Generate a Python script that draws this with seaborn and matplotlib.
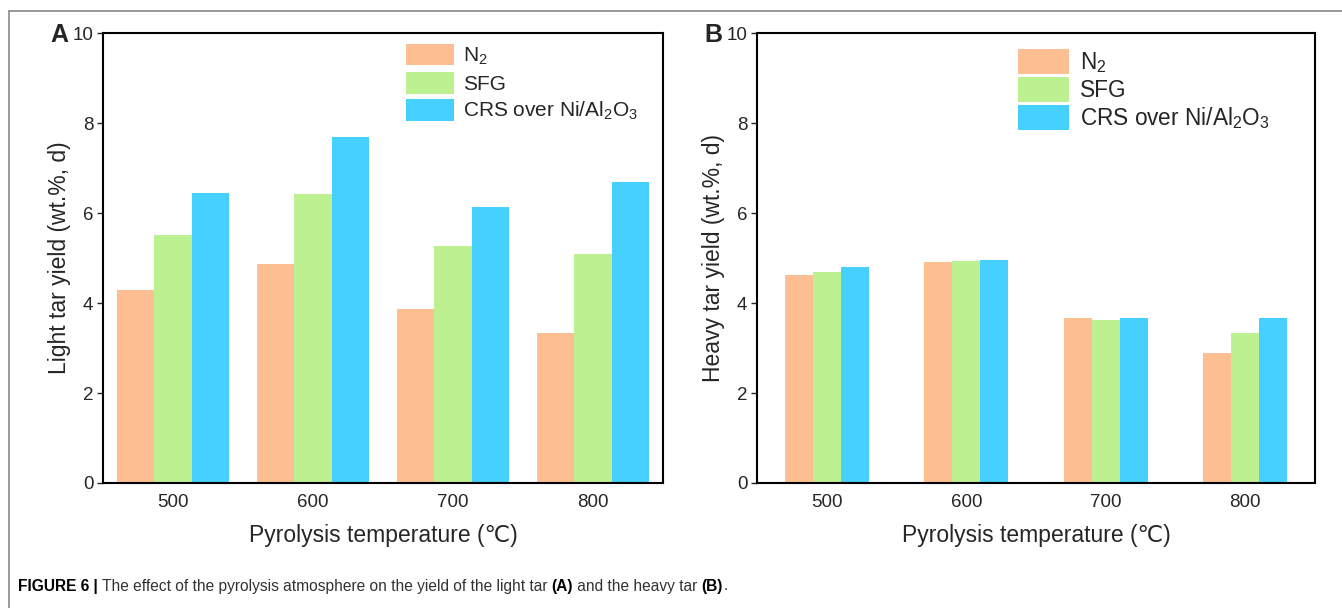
import pandas as pd
import seaborn as sns
import matplotlib.pyplot as plt
from matplotlib.lines import Line2D
from matplotlib import font_manager

sns.set_style("white")
plt.rcParams['font.family'] = ['Liberation Sans', 'DejaVu Sans']
plt.rcParams['mathtext.fontset'] = 'custom'
plt.rcParams['mathtext.rm'] = 'Liberation Sans'
plt.rcParams['mathtext.it'] = 'Liberation Sans'

# data
temps = ["500", "600", "700", "800"]
atmospheres = ["N$_2$", "SFG", "CRS over Ni/Al$_2$O$_3$"]
light_n2 = [4.30, 4.87, 3.87, 3.33]
light_sfg = [5.52, 6.42, 5.27, 5.09]
light_crs = [6.45, 7.70, 6.14, 6.70]
heavy_n2 = [4.62, 4.92, 3.66, 2.88]
heavy_sfg = [4.69, 4.94, 3.63, 3.33]
heavy_crs = [4.81, 4.96, 3.66, 3.66]

colors = ["#FDBF91", "#BDF090", "#45D0FF"]


def long_df(series):
    rows = []
    for atm, vals in zip(atmospheres, series):
        for t, v in zip(temps, vals):
            rows.append({"temp": t, "atm": atm, "val": v})
    return pd.DataFrame(rows)


df_light = long_df([light_n2, light_sfg, light_crs])
df_heavy = long_df([heavy_n2, heavy_sfg, heavy_crs])

fig = plt.figure(figsize=(13.42, 6.08), dpi=100)
ax1 = fig.add_axes([0.0768, 0.2056, 0.4173, 0.740])
ax2 = fig.add_axes([0.5641, 0.2056, 0.4158, 0.740])

panels = [
    (ax1, df_light, 0.8, "Light tar yield (wt.%, d)", "A", 15, 2.3, 1.2, 0.25, (0.515, 1.008)),
    (ax2, df_heavy, 0.6, "Heavy tar yield (wt.%, d)", "B", 16.3, 2.25, 1.3, 0.12, (0.44, 1.0)),
]

for ax, df, w, ylab, tag, lfs, hl, hh, ls, anchor in panels:
    sns.barplot(data=df, x="temp", y="val", hue="atm", hue_order=atmospheres,
                palette=colors, saturation=1, width=w, linewidth=0, ax=ax)
    ax.set_ylim(0, 10)
    ax.set_xlim(-0.5, 3.5)
    ax.set_yticks([0, 2, 4, 6, 8, 10])
    ax.set_ylabel(ylab, fontsize=16.5, labelpad=1)
    ax.set_xlabel("Pyrolysis temperature (\u2103)", fontsize=16.5, labelpad=9)
    ax.tick_params(axis="y", direction="out", length=4, width=1, labelsize=13.5, left=True, pad=3)
    ax.tick_params(axis="x", length=0, labelsize=13.5, pad=8)
    for s in ax.spines.values():
        s.set_color("black")
        s.set_linewidth(1.5)
    ax.legend(loc="upper left", bbox_to_anchor=anchor, frameon=False, fontsize=lfs,
              handlelength=hl, handleheight=hh, labelspacing=ls, handletextpad=0.45,
              borderaxespad=0.3)
    ax.text(-0.062, 0.995, tag, transform=ax.transAxes, fontsize=18, fontweight="bold",
            ha="right", va="center")

# outer frame lines
fig.add_artist(Line2D([9 / 1342, 1], [1 - 11 / 608, 1 - 11 / 608], color="#888888", lw=1.2))
fig.add_artist(Line2D([9 / 1342, 9 / 1342], [0, 1 - 11 / 608], color="#888888", lw=1.2))

# caption, pieces chained one after another
names = {f.name for f in font_manager.fontManager.ttflist}
cap_family = ["Liberation Sans Narrow"] if "Liberation Sans Narrow" in names else ["Liberation Sans"]
pieces = [
    ("FIGURE 6 | ", "bold", "black"),
    ("The effect of the pyrolysis atmosphere on the yield of the light tar ", "normal", "#333333"),
    ("(A)", "bold", "black"),
    (" and the heavy tar ", "normal", "#333333"),
    ("(B)", "bold", "black"),
    (".", "normal", "#333333"),
]
renderer = fig.canvas.get_renderer()
xpix = 18
for s, wgt, col in pieces:
    t = fig.text(xpix / 1342, 1 - 586 / 608, s, fontsize=11.2, fontweight=wgt, color=col,
                 family=cap_family, va="center", ha="left")
    xpix += t.get_window_extent(renderer).width

fig.savefig("out.png", dpi=100)
